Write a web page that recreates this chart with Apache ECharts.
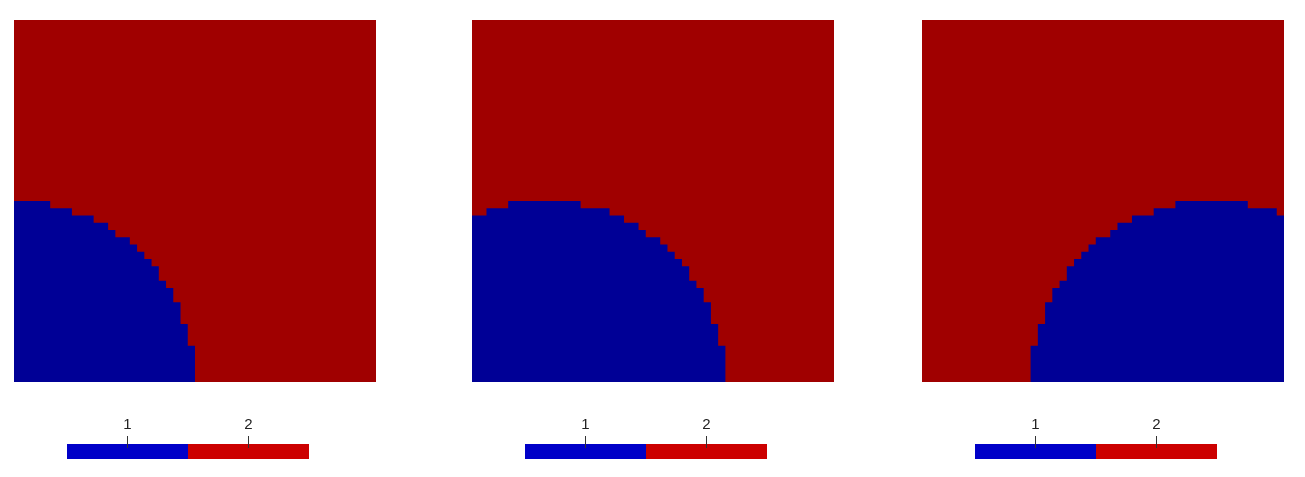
<!DOCTYPE html>
<html><head><meta charset="utf-8">
<script src="https://cdn.jsdelivr.net/npm/echarts@6/dist/echarts.min.js"></script>
<style>html,body{margin:0;padding:0;background:#fff}#c{width:1305px;height:477px}</style>
</head><body><div id="c"></div>
<script>
// Height (in grid cells, of 50) of the blue phase in each column 0..49
const panel1Heights = [25,25,25,25,25,24,24,24,23,23,23,22,22,21,20,20,19,18,17,16,14,13,11,8,5,
  0,0,0,0,0,0,0,0,0,0,0,0,0,0,0,0,0,0,0,0,0,0,0,0,0];
const panel2Heights = [23,23,24,24,24,25,25,25,25,25,25,25,25,25,25,24,24,24,24,23,23,22,22,21,20,20,19,18,17,16,14,13,11,8,5,
  0,0,0,0,0,0,0,0,0,0,0,0,0,0,0];
const panel3Heights = [0,0,0,0,0,0,0,0,0,0,0,0,0,0,0,
  5,8,11,13,14,16,17,18,19,20,20,21,22,22,23,23,23,24,24,24,25,25,25,25,25,25,25,25,25,25,24,24,24,24,23];
const colorbarLabels = ['1', '2'];
const colorbarValues = [1, 1];

const PLOT_RED = '#a00000', PLOT_BLUE = '#000096';
const BAR_COLORS = ['#0000c8', '#cc0000'];

const panels = [panel1Heights, panel2Heights, panel3Heights];
const plotLefts = [14, 472, 922];
const barLefts = [67, 525, 975];

const grid = [], xAxis = [], yAxis = [], series = [];
panels.forEach((h, p) => {
  grid.push({left: plotLefts[p], top: 20, width: 362, height: 362, show: true,
    backgroundColor: PLOT_RED, borderWidth: 0});
  xAxis.push({type: 'value', gridIndex: p, min: 0, max: 50, show: false});
  yAxis.push({type: 'value', gridIndex: p, min: 0, max: 50, show: false});
  const pts = h.map((v, i) => [i, v]);
  pts.push([h.length, h[h.length - 1]]);
  series.push({type: 'line', xAxisIndex: p, yAxisIndex: p, data: pts, step: 'end',
    showSymbol: false, silent: true, lineStyle: {width: 0, opacity: 0},
    areaStyle: {color: PLOT_BLUE, opacity: 1, origin: 'start'}});
});
// colour bars: grid spans tick top (436) to bar bottom (459); bar fills lower 15px
barLefts.forEach((l, b) => {
  const gi = 3 + b;
  grid.push({left: l, top: 436, width: 242, height: 23});
  xAxis.push({type: 'category', gridIndex: gi, data: colorbarLabels, position: 'top', z: 10,
    axisLine: {show: false, onZero: false},
    axisTick: {show: true, inside: true, alignWithLabel: true, length: 12, lineStyle: {color: '#333', width: 1}},
    axisLabel: {margin: 4, color: '#222', fontSize: 15, fontFamily: 'Liberation Sans'}});
  yAxis.push({type: 'value', gridIndex: gi, min: 0, max: 23 / 15, show: false});
  series.push({type: 'bar', xAxisIndex: gi, yAxisIndex: gi, barCategoryGap: '0%', silent: true, z: 1,
    data: colorbarValues.map((v, i) => ({value: v, itemStyle: {color: BAR_COLORS[i]}}))});
});

const chart = echarts.init(document.getElementById('c'), null, {renderer: 'canvas'});
chart.setOption({animation: false, backgroundColor: '#fff', grid, xAxis, yAxis, series});
</script></body></html>
